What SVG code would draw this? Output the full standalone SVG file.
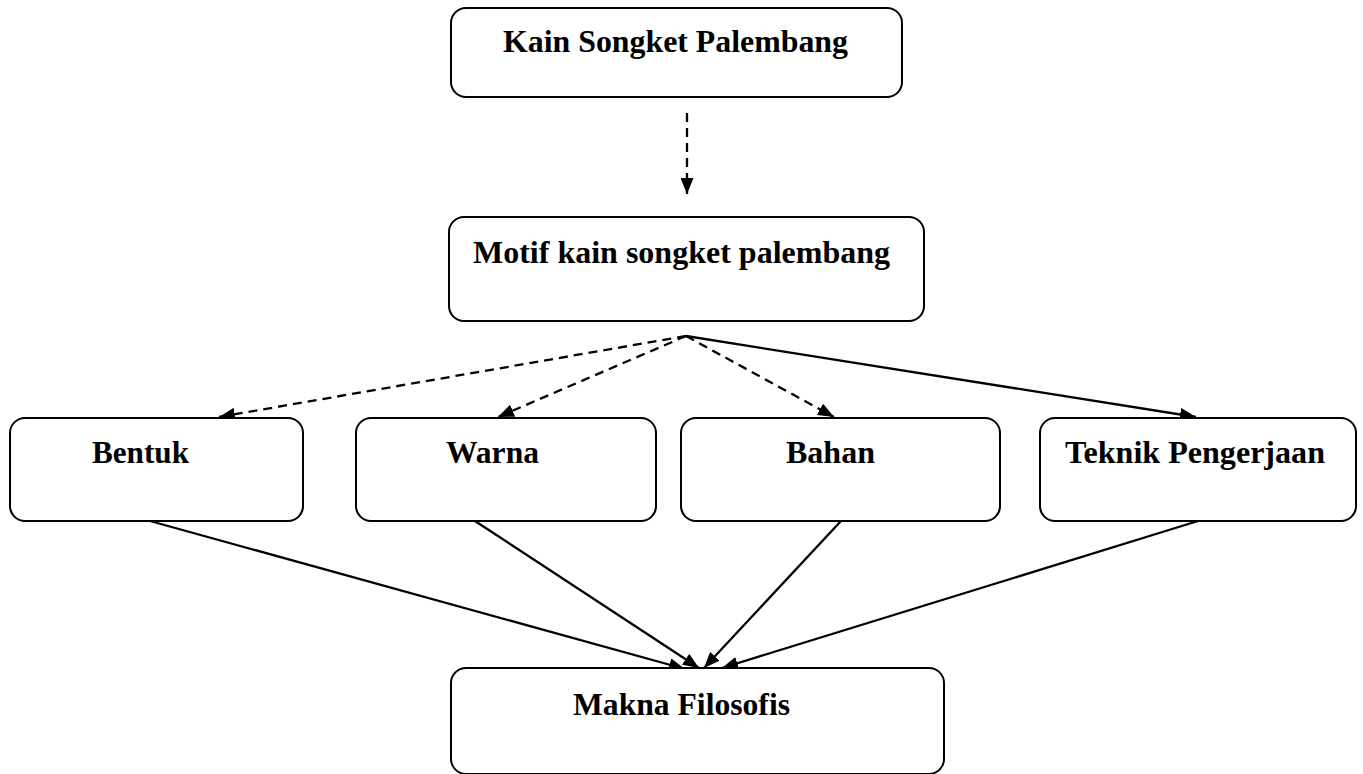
<svg xmlns="http://www.w3.org/2000/svg" width="1363" height="774" viewBox="0 0 1363 774">
<style>
.box{fill:#fff;stroke:#000;stroke-width:2}
.t{font-family:"Liberation Serif","Times New Roman",serif;font-weight:bold;font-size:31px;fill:#000}
.r{font-size:32.5px}
.c{stroke:#000;stroke-width:2.3;fill:none}
.d{stroke-dasharray:9 6}
</style>
<defs>
<marker id="ah" viewBox="0 0 16 13" refX="16" refY="6.5" markerWidth="16" markerHeight="13" markerUnits="userSpaceOnUse" orient="auto">
<path d="M0,0 L16,6.5 L0,13 Z" fill="#000"/>
</marker>
</defs>
<rect width="1363" height="774" fill="#fff"/>
<g id="connectors">
<line class="c d" x1="687" y1="113" x2="687" y2="194" marker-end="url(#ah)"/>
<line class="c d" x1="686" y1="336" x2="219" y2="417" marker-end="url(#ah)"/>
<line class="c d" x1="686" y1="336" x2="498" y2="417" marker-end="url(#ah)"/>
<line class="c d" x1="686" y1="336" x2="834" y2="417" marker-end="url(#ah)"/>
<line class="c" x1="686" y1="336" x2="1196" y2="417" marker-end="url(#ah)"/>
<line class="c" x1="150" y1="521" x2="685" y2="669" marker-end="url(#ah)"/>
<line class="c" x1="475" y1="521" x2="699" y2="668" marker-end="url(#ah)"/>
<line class="c" x1="841" y1="521" x2="704" y2="668" marker-end="url(#ah)"/>
<line class="c" x1="1198" y1="521" x2="722" y2="668" marker-end="url(#ah)"/>
</g>
<g id="kain">
<rect class="box" x="451" y="8" width="451" height="89" rx="15"/>
<text class="t" x="503" y="52" textLength="345" lengthAdjust="spacingAndGlyphs">Kain Songket Palembang</text>
</g>
<g id="motif">
<rect class="box" x="449" y="217" width="475" height="104" rx="15"/>
<text class="t" x="473" y="263" textLength="417" lengthAdjust="spacingAndGlyphs">Motif kain songket palembang</text>
</g>
<g id="bentuk">
<rect class="box" x="10" y="418" width="293" height="103" rx="15"/>
<text class="t r" x="92" y="463" textLength="97" lengthAdjust="spacingAndGlyphs">Bentuk</text>
</g>
<g id="warna">
<rect class="box" x="356" y="418" width="300" height="103" rx="15"/>
<text class="t r" x="446" y="463" textLength="93" lengthAdjust="spacingAndGlyphs">Warna</text>
</g>
<g id="bahan">
<rect class="box" x="681" y="418" width="319" height="103" rx="15"/>
<text class="t r" x="786" y="463" textLength="89" lengthAdjust="spacingAndGlyphs">Bahan</text>
</g>
<g id="teknik">
<rect class="box" x="1040" y="418" width="316" height="103" rx="15"/>
<text class="t r" x="1065" y="463" textLength="260" lengthAdjust="spacingAndGlyphs">Teknik Pengerjaan</text>
</g>
<g id="makna">
<rect class="box" x="451" y="668" width="493" height="106" rx="15"/>
<text class="t" x="573" y="715" textLength="217" lengthAdjust="spacingAndGlyphs" style="font-size:32.5px">Makna Filosofis</text>
</g>
</svg>
